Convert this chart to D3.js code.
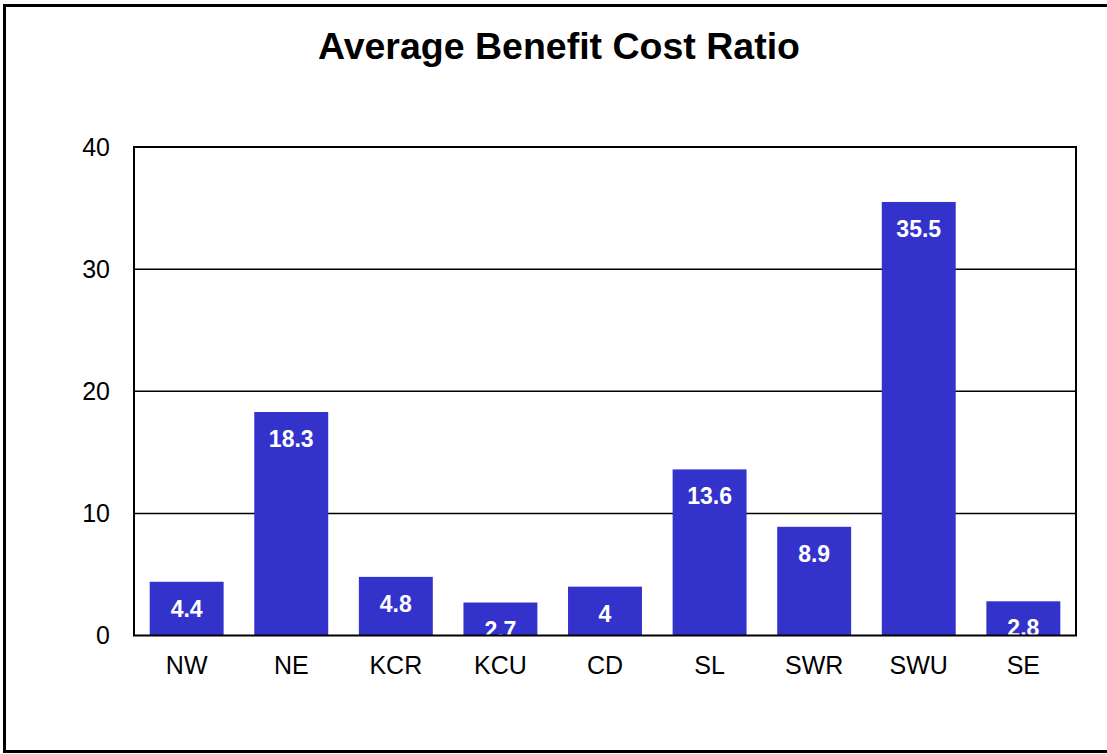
<!DOCTYPE html>
<html>
<head>
<meta charset="utf-8">
<script src="https://cdn.jsdelivr.net/npm/d3@7"></script>
<style>
body { margin: 0; background: #fff; }
svg { display: block; font-family: "Liberation Sans", Arial, sans-serif; }
</style>
</head>
<body>
<svg width="1107" height="754"></svg>
<script>
var regions = ["NW", "NE", "KCR", "KCU", "CD", "SL", "SWR", "SWU", "SE"];
var ratios = [4.4, 18.3, 4.8, 2.7, 4, 13.6, 8.9, 35.5, 2.8];
var yTicks = [0, 10, 20, 30, 40];

var svg = d3.select("svg");
var plotLeft = 134, plotRight = 1076, plotTop = 147, plotBottom = 635.5;

// outer frame
svg.append("rect").attr("x", 4.5).attr("y", 5.5).attr("width", 1110).attr("height", 746)
  .attr("fill", "none").attr("stroke", "#000").attr("stroke-width", 3);

svg.append("text").attr("x", 559).attr("y", 59).attr("text-anchor", "middle")
  .attr("font-size", 37.5).attr("font-weight", "bold").text("Average Benefit Cost Ratio");

var x = d3.scaleBand().domain(regions).range([plotLeft, plotRight]).paddingInner(0.293).paddingOuter(0.15);
var y = d3.scaleLinear().domain([0, 40]).range([plotBottom, plotTop]);

// gridlines
svg.append("g").selectAll("line").data(yTicks.slice(1, 4)).enter().append("line")
  .attr("x1", plotLeft).attr("x2", plotRight)
  .attr("y1", function(d) { return y(d); }).attr("y2", function(d) { return y(d); })
  .attr("stroke", "#000").attr("stroke-width", 1.5);

svg.append("defs").append("clipPath").attr("id", "plot")
  .append("rect").attr("x", plotLeft).attr("y", plotTop).attr("width", plotRight - plotLeft).attr("height", plotBottom - plotTop);

var bars = svg.append("g").attr("clip-path", "url(#plot)");
bars.selectAll("rect").data(ratios).enter().append("rect")
  .attr("x", function(d, i) { return x(regions[i]); })
  .attr("y", function(d) { return y(d); })
  .attr("width", x.bandwidth())
  .attr("height", function(d) { return y(0) - y(d); })
  .attr("fill", "#3333cc");

bars.selectAll("text").data(ratios).enter().append("text")
  .attr("x", function(d, i) { return x(regions[i]) + x.bandwidth() / 2; })
  .attr("y", function(d) { return y(d) + 35; })
  .attr("text-anchor", "middle").attr("fill", "#fff")
  .attr("font-size", 23).attr("font-weight", "bold")
  .text(function(d) { return d; });

// plot frame
svg.append("rect").attr("x", plotLeft).attr("y", plotTop).attr("width", plotRight - plotLeft).attr("height", plotBottom - plotTop)
  .attr("fill", "none").attr("stroke", "#000").attr("stroke-width", 2);

var yAxis = d3.axisLeft(y).tickValues(yTicks).tickSize(0).tickPadding(24);
svg.append("g").attr("transform", "translate(" + plotLeft + ",0)").call(yAxis)
  .call(function(g) { g.select(".domain").remove(); })
  .selectAll("text").attr("font-size", 25).attr("fill", "#000").attr("font-family", null);

var xAxis = d3.axisBottom(x).tickSize(0).tickPadding(21);
svg.append("g").attr("transform", "translate(0," + plotBottom + ")").call(xAxis)
  .call(function(g) { g.select(".domain").remove(); })
  .selectAll("text").attr("font-size", 25).attr("fill", "#000").attr("font-family", null);
</script>
</body>
</html>
